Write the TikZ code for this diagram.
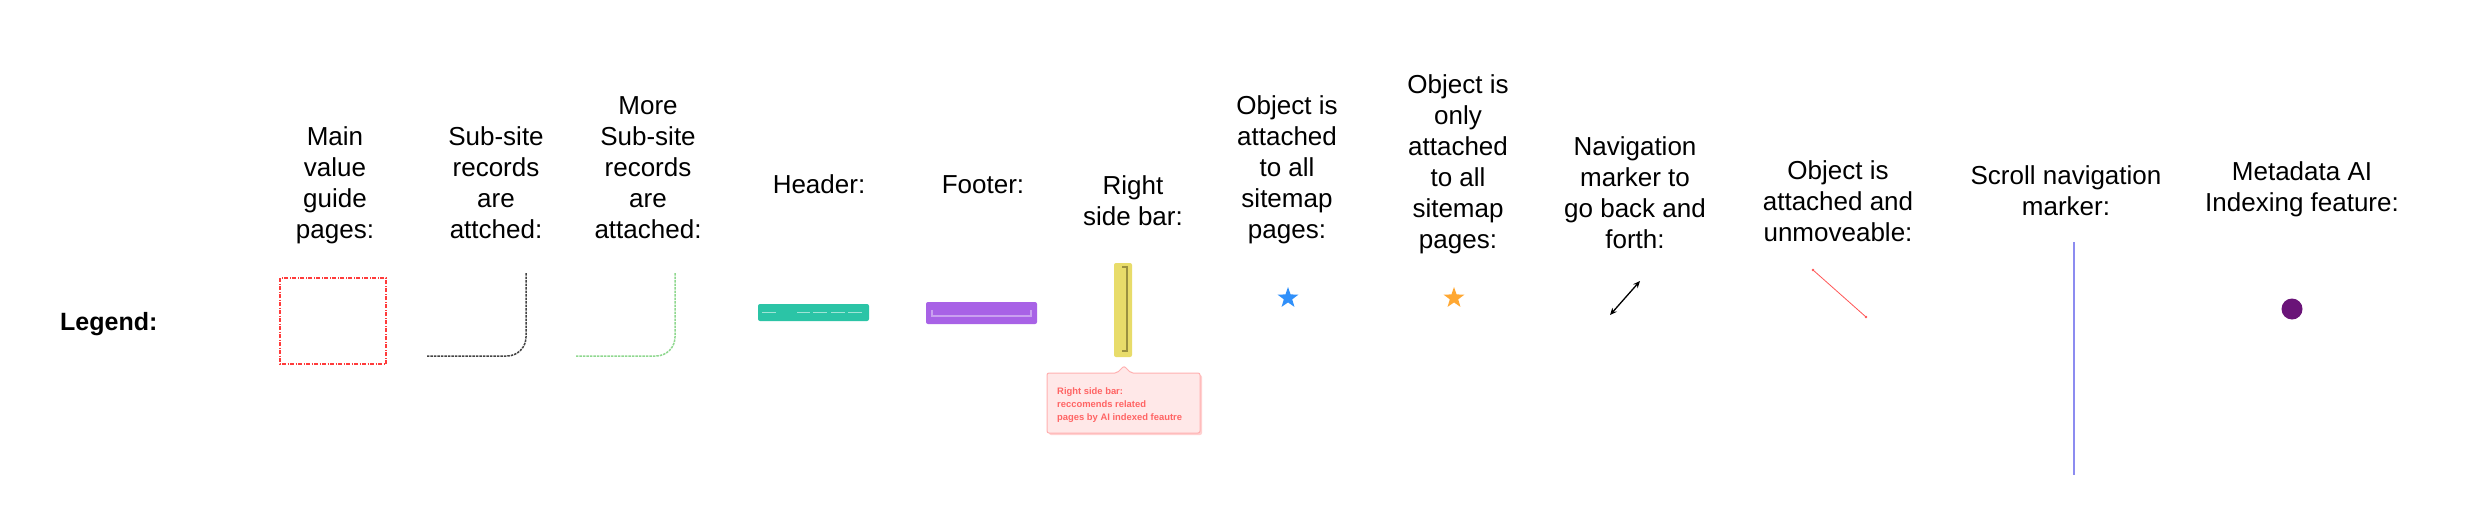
\documentclass[tikz,border=0pt]{standalone}
\usepackage{fontspec}
\setmainfont{Liberation Sans}
\usetikzlibrary{shapes.geometric,arrows.meta}
\definecolor{boxred}{HTML}{FF3B3B}
\definecolor{linkgray}{HTML}{444444}
\definecolor{linkgreen}{HTML}{8FD88F}
\definecolor{headteal}{HTML}{2BC4A6}
\definecolor{footpurple}{HTML}{A862E6}
\definecolor{sideyellow}{HTML}{E8DC6A}
\definecolor{sideolive}{HTML}{9A9040}
\definecolor{notefill}{HTML}{FFE8E8}
\definecolor{noteborder}{HTML}{FFB0B0}
\definecolor{notetext}{HTML}{FF6464}
\definecolor{starblue}{HTML}{3090FA}
\definecolor{starorange}{HTML}{FFA833}
\definecolor{fixred}{HTML}{FF5555}
\definecolor{scrollblue}{HTML}{8C8CF0}
\definecolor{aipurple}{HTML}{6A1478}
\begin{document}
\begin{tikzpicture}[x=1pt,y=-1pt,
  lbl/.style={align=center, anchor=base, inner sep=0pt, font=\fontsize{26}{31}\selectfont},
  legendlbl/.style={anchor=base west, inner sep=0pt, font=\fontsize{25}{30}\selectfont\bfseries},
  starmark/.style={star, star points=5, star point ratio=2.5, minimum size=22pt, inner sep=0pt, draw=none},
  barshape/.style={rounded corners=2pt, draw=none},
  innerline/.style={white, opacity=0.55, line width=1.5pt},
  linkline/.style={line width=1.5pt, dash pattern=on 2.5pt off 1pt},
  notetxt/.style={anchor=base west, align=left, inner sep=0pt, text=notetext, font=\fontsize{9.4}{13}\selectfont\bfseries}]
\useasboundingbox (0,0) rectangle (2480,504);
\fill[white] (0,0) rectangle (2480,504);

% Legend title
\node[legendlbl] (legend) at (60,330) {Legend:};

% Labels (anchored at the baseline of their last line)
\node[lbl] (lmain) at (335,238) {Main\\value\\guide\\pages:};
\node[lbl] (lsub) at (496,238) {Sub-site\\records\\are\\attched:};
\node[lbl] (lmore) at (648,238) {More\\Sub-site\\records\\are\\attached:};
\node[lbl] (lhead) at (819,193) {Header:};
\node[lbl] (lfoot) at (983,193) {Footer:};
\node[lbl] (lside) at (1133,225) {Right\\side bar:};
\node[lbl] (lall) at (1287,238) {Object is\\attached\\to all\\sitemap\\pages:};
\node[lbl] (lonly) at (1458,248) {Object is\\only\\attached\\to all\\sitemap\\pages:};
\node[lbl] (lnav) at (1635,248) {Navigation\\marker to\\go back and\\forth:};
\node[lbl] (lfix) at (1838,241) {Object is\\attached and\\unmoveable:};
\node[lbl] (lscroll) at (2066,215) {Scroll navigation\\marker:};
\node[lbl] (lai) at (2302,211) {Metadata AI\\Indexing feature:};

% Main value guide pages: dash-dot red box
\draw[boxred, line width=1.6pt, dash pattern=on 4pt off 1.5pt on 1pt off 1.5pt] (280,278) rectangle (386,364);

% Sub-site records connector
\coordinate (subtop) at (526,273);
\coordinate (subend) at (427,356);
\draw[linkgray, linkline] (subtop) -- (526,337) arc[start angle=0, end angle=90, radius=19] -- (subend);

% More sub-site records connector
\coordinate (moretop) at (675,273);
\coordinate (moreend) at (576,356);
\draw[linkgreen, linkline] (moretop) -- (675,337) arc[start angle=0, end angle=90, radius=19] -- (moreend);

% Header bar
\fill[headteal, barshape] (758,304) rectangle (869,321);
\draw[innerline] (762,312.5) -- (776,312.5);
\draw[innerline] (797,312.5) -- (810,312.5);
\draw[innerline] (813,312.5) -- (827,312.5);
\draw[innerline] (831,312.5) -- (845,312.5);
\draw[innerline] (848,312.5) -- (862,312.5);

% Footer bar
\fill[footpurple, barshape] (926,302) rectangle (1037,324);
\draw[white, opacity=0.4, line width=1.3pt] (932,310) -- (932,316) -- (1031,316) -- (1031,310);

% Right side bar
\fill[sideyellow, barshape] (1114,263) rectangle (1132,357);
\draw[sideolive, line width=1.2pt] (1122,267) -- (1127,267) -- (1127,351) -- (1122,351);

% Callout note
\fill[noteborder!60, rounded corners=2pt] (1049,375) rectangle (1202,435);
\draw[noteborder, fill=notefill, line width=1pt, rounded corners=2pt]
  (1047,373) -- (1117,373) -- (1124,366) -- (1131,373) -- (1200,373) -- (1200,433) -- (1047,433) -- cycle;
\node[notetxt] (note) at (1057,420) {Right side bar:\\reccomends related\\pages by AI indexed feautre};

% Stars
\node[starmark, fill=starblue] (starall) at (1288,298) {};
\node[starmark, fill=starorange] (staronly) at (1454,298) {};

% Navigation double arrow
\coordinate (nava) at (1610,315);
\coordinate (navb) at (1640,281);
\draw[black, line width=1.3pt, {Stealth[length=7pt,width=6pt]}-{Stealth[length=7pt,width=6pt]}] (nava) -- (navb);

% Unmoveable red line
\coordinate (fixa) at (1813,270);
\coordinate (fixb) at (1866,317);
\draw[fixred, line width=0.8pt] (fixa) -- (fixb);
\fill[fixred] (fixa) circle[radius=1.3pt];
\fill[fixred] (fixb) circle[radius=1.3pt];

% Scroll navigation marker
\coordinate (scrolla) at (2074,242);
\coordinate (scrollb) at (2074,475);
\draw[scrollblue, line width=1.8pt] (scrolla) -- (scrollb);

% Metadata AI dot
\node[circle, fill=aipurple, minimum size=21pt, inner sep=0pt] (aidot) at (2292,309) {};
\end{tikzpicture}
\end{document}
